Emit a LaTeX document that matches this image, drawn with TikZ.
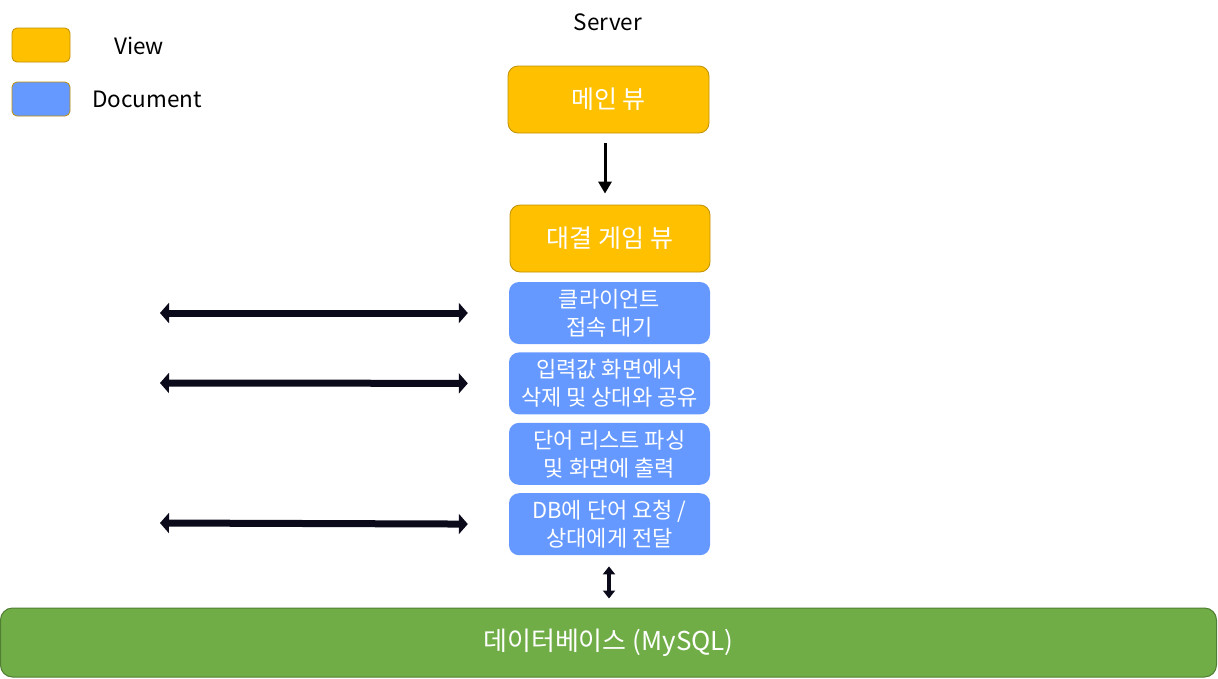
\documentclass[tikz,border=0pt]{standalone}
\usepackage{fontspec}
\setmainfont{Noto Sans CJK KR}
\usetikzlibrary{positioning,arrows.meta}
\definecolor{viewfill}{HTML}{FFC000}
\definecolor{viewline}{HTML}{BF9000}
\definecolor{docfill}{HTML}{6699FF}
\definecolor{dbfill}{HTML}{70AD47}
\definecolor{dbline}{HTML}{507E32}
\definecolor{arrowline}{HTML}{0A0A1A}

\begin{document}
\begin{tikzpicture}[x=1pt, y=-1pt, node distance=8pt,
    every node/.style={font=\fontsize{22.5}{27}\selectfont},
    viewbox/.style={rectangle, rounded corners=10pt, fill=viewfill, draw=viewline, line width=0.8pt, text=white, minimum width=201pt, minimum height=67pt, font=\fontsize{25}{28}\selectfont},
    docbox/.style={rectangle, rounded corners=10pt, fill=docfill, text=white, minimum width=201pt, minimum height=62pt, align=center, inner sep=1pt, font=\fontsize{22}{28}\selectfont},
    keybox/.style={rectangle, rounded corners=5pt, draw=viewline, line width=0.8pt, minimum width=58pt, minimum height=34pt},
    dbl/.style={arrowline, line width=7pt, {Triangle[width=20pt,length=9pt]}-{Triangle[width=20pt,length=9pt]}},
    ]
  \useasboundingbox (0,0) rectangle (1218,678);
  % legend
  \node (kview) at (41,45) [keybox, fill=viewfill] {};
  \node (kdoc) at (41,99) [keybox, fill=docfill] {};
  \node (tview) at (139,46) {View};
  \node (tdoc) at (147,99) {Document};
  \node (server) at (608,22) {Server};
  % views
  \node (main) at (608.5,99.5) [viewbox] {메인 뷰};
  \node (game) at (610,238.5) [viewbox, minimum width=200pt] {대결 게임 뷰};
  % documents
  \node (d1) at (609.5,313) [docbox] {클라이언트\\접속 대기};
  \node (d2) [below=of d1, docbox] {입력값 화면에서\\삭제 및 상대와 공유};
  \node (d3) [below=of d2, docbox] {단어 리스트 파싱\\및 화면에 출력};
  \node (d4) [below=of d3, docbox] {DB에 단어 요청 /\\상대에게 전달};
  \node (db) at (608.5,642.5) [rectangle, rounded corners=12pt, fill=dbfill, draw=dbline, line width=1pt, text=white, minimum width=1216pt, minimum height=69pt, font=\fontsize{26}{30}\selectfont] {데이터베이스 (MySQL)};
  % client side ends
  \coordinate (c1) at (160,313);
  \coordinate (c2) at (160,383);
  \coordinate (c4) at (160,523);
  \draw[-{Triangle[width=13pt,length=12pt]}, line width=3pt, shorten <=10pt, shorten >=11pt] (main.south -| 605,0) -- (game.north -| 605,0);
  \draw[dbl, shorten >=41pt] (c1) -- (d1.west);
  \draw[dbl, shorten >=41pt] (c2) -- (d2.west);
  \draw[dbl, shorten >=41pt] (c4) -- (d4.west);
  \draw[arrowline, line width=4pt, {Triangle[width=12pt,length=8pt]}-{Triangle[width=12pt,length=8pt]}, shorten <=11pt, shorten >=9pt] (d4.south -| 609,0) -- (db.north -| 609,0);
\end{tikzpicture}
\end{document}
